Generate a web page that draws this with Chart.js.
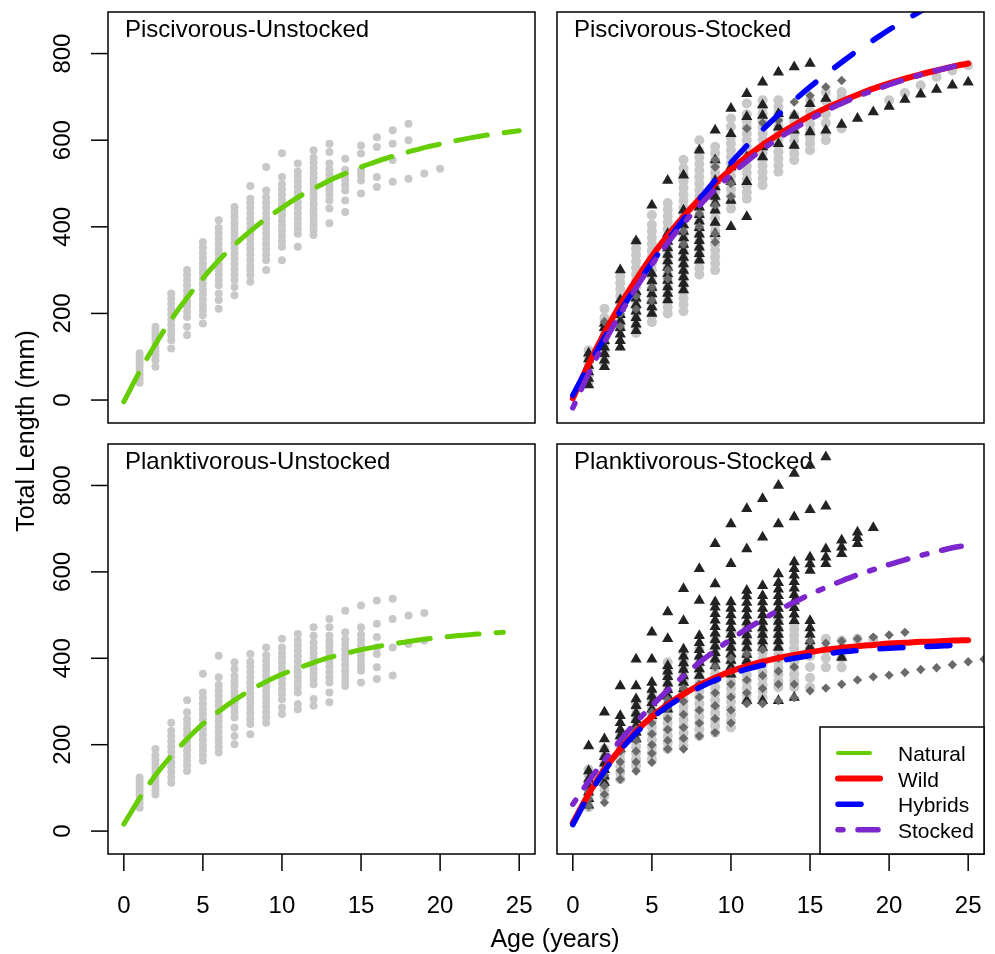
<!DOCTYPE html>
<html>
<head>
<meta charset="utf-8">
<script src="https://cdn.jsdelivr.net/npm/chart.js@4.4.1/dist/chart.umd.min.js"></script>
<style>
  body { margin: 0; background: #fff; overflow: hidden; }
  #wrap { position: relative; width: 995px; height: 954px; }
  #wrap canvas { position: absolute; left: 0; top: 0; }
</style>
</head>
<body>
<div id="wrap">
  <canvas id="pisUnst" width="995" height="954"></canvas>
  <canvas id="pisStk" width="995" height="954"></canvas>
  <canvas id="plaUnst" width="995" height="954"></canvas>
  <canvas id="plaStk" width="995" height="954"></canvas>
</div>
<script>
// tick labels and texts
const xTicks = [0, 5, 10, 15, 20, 25];
const yTicks = [0, 200, 400, 600, 800];
const panelTitles = ['Piscivorous-Unstocked', 'Piscivorous-Stocked', 'Planktivorous-Unstocked', 'Planktivorous-Stocked'];
const legendLabels = ['Natural', 'Wild', 'Hybrids', 'Stocked'];

// observed lengths (mm), array index = age (years)
const pisUnstNatural = [
  [],
  [40, 50, 60, 70, 80, 90, 100, 108],
  [77, 92, 102, 112, 122, 132, 142, 152, 162, 169],
  [119, 138, 150, 162, 174, 186, 198, 210, 222, 234, 246],
  [150, 169, 192, 204, 216, 228, 240, 252, 264, 276, 288, 300],
  [177, 196, 208, 220, 232, 244, 256, 268, 280, 292, 304, 316, 328, 340, 352, 365],
  [211, 231, 246, 265, 277, 289, 301, 313, 325, 337, 349, 361, 373, 385, 397, 415],
  [242, 261, 277, 290, 302, 314, 326, 338, 350, 362, 374, 386, 398, 410, 422, 434, 446],
  [273, 288, 300, 312, 324, 336, 348, 360, 372, 384, 396, 408, 420, 432, 444, 456, 465, 494],
  [300, 323, 336, 348, 360, 372, 384, 396, 408, 420, 432, 444, 456, 468, 484, 538],
  [323, 354, 366, 378, 390, 402, 414, 426, 438, 450, 462, 474, 486, 498, 515, 570],
  [354, 384, 396, 408, 420, 432, 444, 456, 468, 480, 492, 504, 516, 528, 546],
  [381, 392, 404, 416, 428, 440, 452, 464, 476, 488, 500, 512, 524, 536, 548, 560, 577],
  [408, 442, 461, 473, 485, 497, 509, 521, 533, 546, 573, 592],
  [434, 461, 484, 496, 508, 520, 532, 557],
  [477, 507, 519, 530, 569, 588],
  [492, 515, 584, 607],
  [504, 554, 592, 623],
  [511, 600, 638],
  [523],
  [534]
];

const plaUnstNatural = [
  [],
  [54, 64, 74, 84, 94, 104, 114, 124],
  [85, 95, 105, 115, 125, 135, 145, 155, 165, 175, 190],
  [112, 124, 136, 148, 160, 172, 184, 196, 208, 220, 232, 251],
  [139, 151, 163, 175, 187, 199, 211, 223, 235, 247, 259, 275, 303],
  [163, 175, 187, 199, 211, 223, 235, 247, 259, 271, 283, 295, 308, 321, 364],
  [182, 194, 206, 218, 230, 242, 254, 266, 278, 290, 302, 314, 326, 338, 356, 406],
  [201, 220, 240, 263, 275, 287, 299, 311, 323, 335, 347, 359, 375, 391],
  [224, 248, 260, 272, 284, 296, 308, 320, 332, 344, 356, 368, 380, 392, 410],
  [251, 263, 275, 287, 299, 311, 323, 335, 347, 359, 371, 383, 395, 407, 425],
  [271, 286, 305, 317, 329, 341, 353, 365, 377, 389, 401, 413, 425, 445],
  [282, 294, 321, 333, 345, 357, 369, 381, 393, 405, 417, 429, 441, 456],
  [290, 306, 340, 352, 364, 376, 388, 400, 412, 424, 436, 452, 472],
  [298, 321, 344, 356, 368, 380, 392, 404, 416, 428, 440, 452, 472, 491],
  [336, 348, 360, 372, 384, 396, 408, 420, 432, 444, 460, 510],
  [344, 371, 383, 395, 407, 419, 431, 443, 455, 472, 522],
  [352, 379, 410, 425, 449, 480, 534],
  [360, 425, 491, 538],
  [433, 499],
  [441, 505]
];

const pisStkWild = [
  [],
  [40, 55, 70, 85, 100, 115],
  [85, 100, 115, 130, 145, 160, 175, 190, 211],
  [165, 180, 195, 210, 225, 240, 255, 270, 285],
  [155, 170, 185, 200, 215, 230, 245, 260, 275, 290, 305, 320, 335, 350, 365],
  [180, 195, 210, 225, 240, 255, 270, 285, 300, 315, 330, 345, 360, 375, 390, 405, 427],
  [200, 215, 230, 245, 260, 275, 290, 305, 320, 335, 350, 365, 380, 395, 410, 425, 440, 455],
  [205, 220, 235, 250, 265, 280, 295, 310, 325, 340, 355, 370, 385, 400, 415, 430, 445, 460, 475, 490, 505, 520, 535, 555],
  [290, 305, 320, 335, 350, 365, 380, 395, 410, 425, 440, 455, 470, 485, 500, 515, 530, 545, 560, 575, 600],
  [300, 315, 330, 345, 360, 375, 390, 405, 420, 435, 450, 465, 480, 495, 510, 525, 540, 555, 570, 585],
  [442, 457, 472, 487, 502, 517, 532, 547, 562, 577, 592, 607, 631, 650],
  [465, 480, 495, 510, 525, 540, 555, 570, 585, 600, 615, 630, 645, 660, 685],
  [496, 511, 526, 541, 556, 571, 586, 601, 616, 631, 646, 661, 676, 692],
  [527, 542, 557, 572, 587, 602, 617, 632, 647, 662, 677, 692],
  [554, 569, 584, 599, 614, 629, 644, 657],
  [577, 592, 607, 622, 637, 652, 667, 692],
  [600, 615, 640, 660, 690, 711],
  [627, 700, 711],
  [],
  [],
  [692],
  [709],
  [727],
  [746],
  [761],
  [773]
];

const pisStkHybrid = [
  [],
  [35, 50, 65, 80, 95, 108],
  [77, 92, 107, 122, 137, 152, 167, 177],
  [122, 137, 152, 167, 182, 197, 212, 231, 300],
  [160, 175, 190, 205, 220, 235, 250, 367],
  [200, 215, 230, 245, 260, 275, 292, 450],
  [231, 246, 261, 276, 291, 306, 321, 336, 351, 366, 384, 507],
  [254, 269, 284, 299, 314, 329, 344, 359, 374, 389, 404, 420, 438, 519],
  [323, 338, 353, 368, 383, 398, 413, 428, 445, 461, 577],
  [384, 410, 438, 455, 470, 492, 507, 554, 623],
  [400, 461, 504, 538, 615, 673],
  [423, 504, 561, 654, 707],
  [561, 584, 657, 681, 734],
  [592, 630, 661, 757],
  [588, 623, 657, 769],
  [619, 684, 777],
  [623, 696],
  [636],
  [650],
  [665],
  [678],
  [694],
  [706],
  [717],
  [727],
  [734]
];

const pisStkStocked = [
  [],
  [],
  [150, 181],
  [170, 200],
  [210, 240],
  [230, 260],
  [280, 300],
  [360, 390, 420],
  [400, 430, 460],
  [365, 384, 450, 538, 554],
  [470, 500],
  [627],
  [640],
  [646],
  [688],
  [703],
  [723],
  [738]
];

const plaStkWild = [
  [],
  [55, 70, 85, 100, 115, 130, 143],
  [81, 96, 111, 126, 141, 156, 171, 190],
  [120, 135, 150, 165, 180, 195, 210, 220],
  [151, 166, 181, 196, 211, 226, 241, 256, 271, 286, 298],
  [166, 181, 196, 211, 226, 241, 256, 271, 286, 301, 313],
  [190, 205, 220, 235, 250, 265, 280, 295, 310, 325, 340, 355, 370, 391],
  [197, 212, 227, 242, 257, 272, 287, 302, 317, 332, 347, 362, 377, 392, 414],
  [220, 235, 250, 265, 280, 295, 310, 325, 340, 355, 370, 385, 400, 421],
  [228, 243, 258, 273, 288, 303, 318, 333, 348, 363, 378, 393, 408, 423, 438, 452],
  [240, 255, 270, 285, 300, 315, 330, 345, 360, 375, 390, 405, 420, 435, 460],
  [302, 317, 332, 347, 362, 377, 392, 407, 422, 437, 452, 472],
  [309, 324, 339, 354, 369, 384, 399, 414, 429, 444, 459, 480],
  [333, 348, 363, 378, 393, 408, 423, 438, 453, 468, 487],
  [333, 348, 363, 378, 393, 408, 423, 438, 453, 468, 480],
  [333, 355, 380, 405, 425],
  [379, 400, 420, 445],
  [379, 400, 420, 441],
  [445],
  [445]
];

const plaStkHybrid = [
  [],
  [60, 75, 90, 105, 120, 139, 197],
  [112, 127, 142, 157, 172, 190, 213, 275],
  [190, 205, 220, 235, 251, 267, 336],
  [213, 228, 243, 258, 273, 290, 306, 336, 398],
  [267, 282, 297, 312, 328, 344, 398, 460],
  [282, 297, 312, 327, 342, 357, 370, 383, 445, 507],
  [329, 344, 359, 374, 389, 405, 421, 487, 561],
  [360, 375, 390, 405, 420, 436, 452, 534, 607],
  [383, 398, 413, 428, 443, 458, 473, 488, 503, 518, 530, 572, 665],
  [363, 380, 395, 410, 425, 440, 455, 470, 485, 500, 515, 530, 619, 711],
  [302, 394, 409, 424, 439, 454, 469, 484, 499, 514, 529, 544, 557, 653, 746],
  [302, 425, 440, 455, 470, 485, 500, 515, 530, 545, 568, 680, 769],
  [302, 425, 440, 455, 470, 485, 500, 515, 530, 545, 560, 575, 595, 711, 800],
  [309, 487, 502, 517, 532, 547, 562, 577, 592, 607, 623, 727, 828],
  [425, 440, 455, 470, 487, 603, 618, 634, 744, 847],
  [619, 634, 653, 752, 866],
  [402, 425, 642, 657, 673],
  [665, 679, 692],
  [702]
];

const plaStkStocked = [
  [],
  [58, 75, 90],
  [66, 85, 105, 130],
  [120, 140, 160, 185],
  [139, 160, 185, 210, 235],
  [159, 180, 200, 225, 250, 275],
  [190, 210, 235, 260, 285, 305],
  [190, 215, 240, 270, 300, 330],
  [220, 250, 280, 310, 340],
  [228, 260, 290, 320, 350, 380],
  [250, 280, 310, 340, 370, 400],
  [295, 320, 350, 380, 410],
  [295, 330, 360, 390, 420],
  [302, 340, 370, 400],
  [309, 340, 380],
  [325, 440],
  [331, 435],
  [340, 440],
  [350, 445],
  [357, 449],
  [361, 454],
  [367, 460],
  [374],
  [378],
  [385],
  [392],
  [398]
];

// fitted growth curves (mm), array index = age (years)
const pisUnstNaturalFit = [-4, 66, 129, 186, 236, 281, 322, 358, 390, 419, 444, 468, 488, 507, 523, 538, 551, 563, 573, 583, 591, 599, 606, 612, 617, 622];
const plaUnstNaturalFit = [16, 76, 129, 174, 213, 248, 277, 303, 326, 346, 363, 377, 390, 402, 411, 420, 427, 433, 439, 444, 448, 452, 455, 458, 460];
const pisStkWildFit = [4, 83, 155, 220, 278, 332, 380, 424, 464, 500, 533, 562, 589, 613, 635, 656, 674, 690, 705, 719, 731, 742, 752, 761, 770, 777];
const pisStkHybridFit = [11, 79, 144, 205, 262, 317, 368, 417, 463, 507, 548, 587, 624, 659, 692, 723, 752, 780, 807, 831, 855, 877, 898, 918];
const pisStkStockedFit = [-18, 61, 134, 199, 259, 313, 363, 408, 449, 486, 520, 551, 579, 604, 627, 648, 668, 685, 701, 715, 728, 740, 751, 761, 770, 778];
const plaStkWildFit = [19, 86, 143, 190, 231, 265, 293, 317, 338, 355, 370, 382, 392, 401, 408, 414, 420, 424, 428, 431, 434, 436, 438, 439, 441, 442];
const plaStkHybridFit = [15, 83, 139, 187, 227, 261, 289, 312, 332, 349, 363, 375, 384, 393, 400, 406, 410, 415, 418, 421, 423, 425, 427, 428, 430, 431];
const plaStkStockedFit = [62, 115, 164, 210, 252, 290, 326, 359, 390, 418, 444, 468, 490, 511, 530, 548, 564, 579, 593, 605, 617, 628, 638, 647, 656, 662];

const FONT = '"Liberation Sans", Arial, Helvetica, sans-serif';
const lineStyle = {
  natural: { color: '#66cd00', width: 5, dash: [32, 17] },
  wild:    { color: '#ff0000', width: 6, dash: [] },
  hybrid:  { color: '#0000ff', width: 5.5, dash: [23, 24] },
  stocked: { color: '#7d26cd', width: 5.5, dash: [5, 15, 20, 15] }
};

function byAge(lists) {
  const pts = [];
  lists.forEach((ls, age) => ls.forEach(v => pts.push({ x: age, y: v })));
  return pts;
}

function curve(vals, st, order) {
  return {
    type: 'line',
    data: vals.map((v, age) => ({ x: age, y: v })),
    borderColor: st.color,
    borderWidth: st.width,
    borderDash: st.dash,
    borderCapStyle: 'round',
    borderJoinStyle: 'round',
    cubicInterpolationMode: 'monotone',
    pointRadius: 0,
    fill: false,
    clip: 0,
    order: order
  };
}

function points(lists, kind, big) {
  const s = {
    circle:   { style: 'circle',   r: big ? 5 : 4, color: '#c8c8c8', order: 6 },
    triangle: { style: 'triangle', r: 6.5,         color: '#222222', order: 5 },
    diamond:  { style: 'rectRot',  r: 4.7,         color: '#6a6a6a', order: 4 }
  }[kind];
  return {
    type: 'scatter',
    data: byAge(lists),
    pointStyle: s.style,
    pointRadius: s.r,
    pointBackgroundColor: s.color,
    pointBorderWidth: 0,
    showLine: false,
    clip: 0,
    order: s.order
  };
}

function drawLegend(ctx) {
  const keys = ['natural', 'wild', 'hybrid', 'stocked'];
  ctx.save();
  ctx.fillStyle = '#fff';
  ctx.fillRect(820, 727, 164, 127);
  ctx.strokeStyle = '#000';
  ctx.lineWidth = 1.5;
  ctx.strokeRect(820, 727, 164, 127);
  ctx.font = '21px ' + FONT;
  ctx.textBaseline = 'alphabetic';
  ctx.textAlign = 'left';
  legendLabels.forEach((lab, i) => {
    const st = lineStyle[keys[i]];
    const yy = 753 + i * 25.6;
    ctx.beginPath();
    ctx.strokeStyle = st.color;
    ctx.lineWidth = i === 0 ? 4 : st.width;
    ctx.lineCap = 'round';
    ctx.setLineDash(st.dash);
    ctx.moveTo(838, yy);
    ctx.lineTo(880, yy);
    ctx.stroke();
    ctx.setLineDash([]);
    ctx.fillStyle = '#000';
    ctx.fillText(lab, 898, yy + 8);
  });
  ctx.restore();
}

const framePlugin = {
  id: 'frame',
  beforeDatasetsDraw(chart, args, o) {
    const { ctx, chartArea: a } = chart;
    ctx.save();
    ctx.font = '24px ' + FONT;
    ctx.fillStyle = '#000';
    ctx.textBaseline = 'alphabetic';
    ctx.textAlign = 'left';
    ctx.fillText(o.title, a.left + 17, a.top + 25);
    ctx.restore();
  },
  afterDatasetsDraw(chart, args, o) {
    const { ctx, chartArea: a, scales } = chart;
    ctx.save();
    ctx.strokeStyle = '#000';
    ctx.lineWidth = 1.5;
    ctx.strokeRect(a.left, a.top, a.right - a.left, a.bottom - a.top);
    ctx.font = '24px ' + FONT;
    ctx.fillStyle = '#000';
    ctx.textBaseline = 'alphabetic';
    if (o.showY) {
      yTicks.forEach(v => {
        const py = scales.y.getPixelForValue(v);
        ctx.beginPath();
        ctx.moveTo(a.left - 17, py);
        ctx.lineTo(a.left, py);
        ctx.stroke();
        ctx.save();
        ctx.translate(a.left - 38, py);
        ctx.rotate(-Math.PI / 2);
        ctx.textAlign = 'center';
        ctx.fillText(String(v), 0, 0);
        ctx.restore();
      });
    }
    if (o.showX) {
      xTicks.forEach(v => {
        const px = scales.x.getPixelForValue(v);
        ctx.beginPath();
        ctx.moveTo(px, a.bottom);
        ctx.lineTo(px, a.bottom + 17);
        ctx.stroke();
        ctx.textAlign = 'center';
        ctx.fillText(String(v), px, a.bottom + 59);
      });
    }
    if (o.axisTitles) {
      ctx.font = '25px ' + FONT;
      ctx.textAlign = 'center';
      ctx.fillText('Age (years)', 555, 947);
      ctx.save();
      ctx.translate(34, 431);
      ctx.rotate(-Math.PI / 2);
      ctx.fillText('Total Length (mm)', 0, 0);
      ctx.restore();
    }
    if (o.legend) drawLegend(ctx);
    ctx.restore();
  }
};

function panel(id, box, frame, datasets) {
  return new Chart(document.getElementById(id), {
    type: 'scatter',
    data: { datasets: datasets },
    options: {
      responsive: false,
      animation: false,
      devicePixelRatio: 1,
      events: [],
      layout: { padding: { left: box[0], top: box[1], right: 995 - box[2], bottom: 954 - box[3] } },
      scales: {
        x: { type: 'linear', min: -1, max: 26, display: false },
        y: { type: 'linear', min: -53, max: 896, display: false }
      },
      plugins: {
        legend: { display: false },
        tooltip: { enabled: false },
        frame: frame
      }
    },
    plugins: [framePlugin]
  });
}

panel('pisUnst', [108, 12, 535, 423],
  { title: panelTitles[0], showY: true, showX: false, axisTitles: true },
  [
    curve(pisUnstNaturalFit, lineStyle.natural, 1),
    points(pisUnstNatural, 'circle', false)
  ]);

panel('pisStk', [557, 12, 984, 423],
  { title: panelTitles[1], showY: false, showX: false },
  [
    curve(pisStkStockedFit, lineStyle.stocked, 1),
    curve(pisStkHybridFit, lineStyle.hybrid, 2),
    curve(pisStkWildFit, lineStyle.wild, 3),
    points(pisStkStocked, 'diamond'),
    points(pisStkHybrid, 'triangle'),
    points(pisStkWild, 'circle', true)
  ]);

panel('plaUnst', [108, 444, 535, 854],
  { title: panelTitles[2], showY: true, showX: true },
  [
    curve(plaUnstNaturalFit, lineStyle.natural, 1),
    points(plaUnstNatural, 'circle', false)
  ]);

panel('plaStk', [557, 444, 984, 854],
  { title: panelTitles[3], showY: false, showX: true, legend: true },
  [
    curve(plaStkStockedFit, lineStyle.stocked, 1),
    curve(plaStkHybridFit, lineStyle.hybrid, 2),
    curve(plaStkWildFit, lineStyle.wild, 3),
    points(plaStkStocked, 'diamond'),
    points(plaStkHybrid, 'triangle'),
    points(plaStkWild, 'circle', true)
  ]);
</script>
</body>
</html>
